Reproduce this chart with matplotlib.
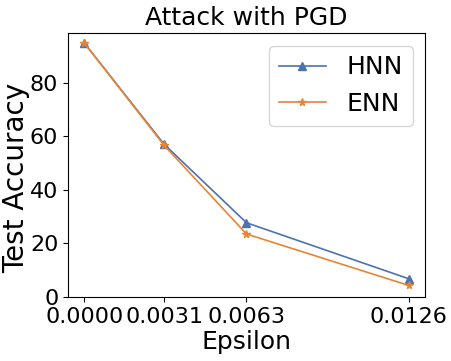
import matplotlib
matplotlib.use("Agg")
import matplotlib.pyplot as plt

epsilons = [0.0, 0.0031, 0.0063, 0.0126]
tick_labels = ["0.0000", "0.0031", "0.0063", "0.0126"]
hnn = [94.8, 57.0, 27.7, 6.8]
enn = [94.8, 56.6, 23.5, 4.3]

fig = plt.figure(figsize=(4.51, 3.61), dpi=100)
ax = fig.add_axes([68/451, 1-297/361, (425-68)/451, (297-33)/361])
ax.plot(epsilons, hnn, marker="^", color="#4c72b0", label="HNN", markersize=5.5, linewidth=1.2)
ax.plot(epsilons, enn, marker="*", color="#ea8430", label="ENN", markersize=5.5, linewidth=1.2)
ax.set_xticks(epsilons)
ax.set_xticklabels(tick_labels)
ax.set_ylim(0, 98.5)
ax.set_xlim(-0.00063, 0.01323)
ax.set_yticks([0, 20, 40, 60, 80])
ax.tick_params(labelsize=16)
ax.set_xlabel("Epsilon", fontsize=18, labelpad=2)
ax.set_ylabel("Test Accuracy", fontsize=20)
ax.yaxis.set_label_coords(-(68-30)/357, (297-178)/264)
ax.set_title("Attack with PGD", fontsize=18)
ax.legend(fontsize=18, loc="upper right", handlelength=1.9)
fig.savefig("out.png", dpi=100)
